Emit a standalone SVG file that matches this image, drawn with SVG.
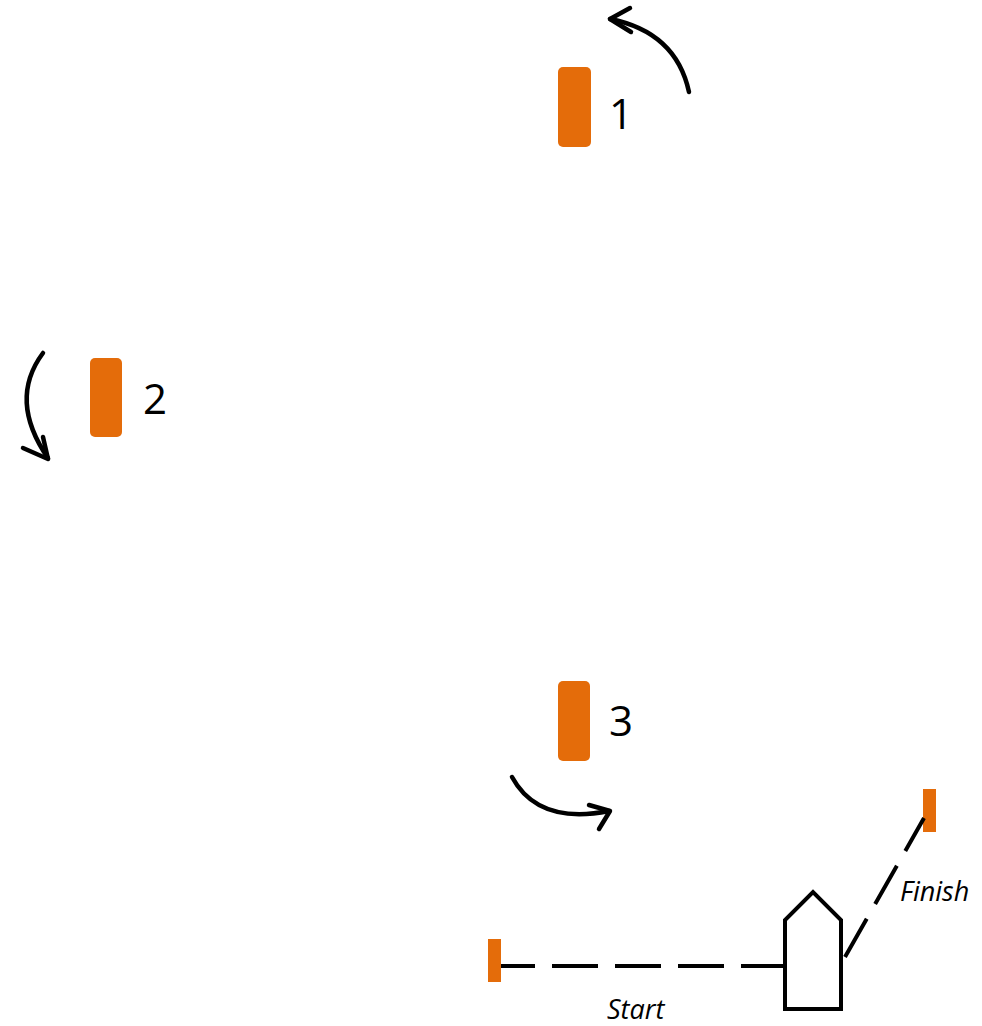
<svg xmlns="http://www.w3.org/2000/svg" width="982" height="1026" viewBox="0 0 982 1026">
<style>
.mark{fill:#E46C0A}
.num{font-family:"Open Sans","Liberation Sans",sans-serif;font-size:42px;fill:#000}
.lbl{font-family:"Open Sans","Liberation Sans",sans-serif;font-size:27px;font-style:italic;fill:#000}
.arr{fill:none;stroke:#000;stroke-width:4.5;stroke-linecap:round;stroke-linejoin:round}
.dash{fill:none;stroke:#000;stroke-width:4}
</style>
<rect width="982" height="1026" fill="#fff"/>
<g id="mark1"><rect class="mark" x="558" y="67" width="33" height="80" rx="5"/><text class="num" x="609" y="129">1</text></g>
<g id="mark2"><rect class="mark" x="90" y="358" width="32" height="79" rx="5"/><text class="num" x="143" y="414">2</text></g>
<g id="mark3"><rect class="mark" x="558" y="681" width="32" height="80" rx="5"/><text class="num" x="609" y="736">3</text></g>
<g id="start"><rect class="mark" x="488" y="939" width="13" height="43"/><text class="lbl" x="607" y="1019">Start</text></g>
<g id="finish"><rect class="mark" x="923" y="789" width="13" height="43"/><text class="lbl" x="900" y="901">Finish</text></g>
<g id="boat"><path d="M785,1009 L841,1009 L841,920 L813,892 L785,920 Z" fill="#fff" stroke="#000" stroke-width="4" stroke-linejoin="miter"/></g>
<g id="connectors">
<path class="arr" d="M689,92 Q676,32 610,19"/>
<path class="arr" d="M630,8 L610,19 L631,32"/>
<path class="arr" d="M43,353 Q8,400 48,458"/>
<path class="arr" d="M23,448 L48,459 L43,437"/>
<path class="arr" d="M512,777 Q538,825 609,811"/>
<path class="arr" d="M589,805 L610,811 L599,829"/>
<line class="dash" x1="501" y1="966" x2="785" y2="966" stroke-dasharray="46 17" stroke-dashoffset="12"/>
<line class="dash" x1="845" y1="957" x2="924" y2="818" stroke-dasharray="44 17"/>
</g>
</svg>
